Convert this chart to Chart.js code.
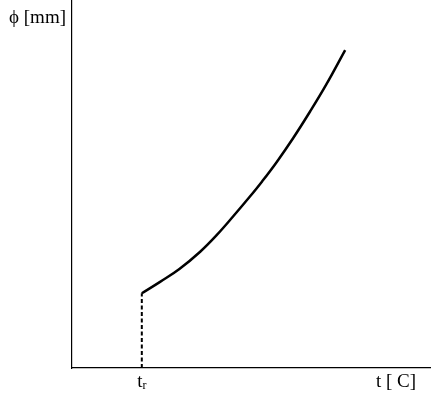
<!DOCTYPE html>
<html>
<head>
<meta charset="utf-8">
<script src="https://cdn.jsdelivr.net/npm/chart.js@4"></script>
<style>
  html, body { margin: 0; padding: 0; background: #fff; }
  #wrap { width: 434px; height: 399px; position: relative; }
</style>
</head>
<body>
<div id="wrap"><canvas id="c"></canvas></div>
<script>
// Curve of diameter versus temperature (arbitrary units, 0..100 on both axes)
const curveT   = [19.5, 24.6, 30.0, 35.8, 40.4, 45.1, 49.7, 53.1, 57.2, 61.8, 66.5, 71.0, 76.3];
const curvePhi = [20.3, 23.4, 26.9, 31.6, 36.1, 41.3, 46.6, 50.7, 56.0, 62.5, 69.7, 77.0, 86.4];
// dashed drop line from the start of the curve to the t axis
const dropT   = [19.5, 19.5];
const dropPhi = [0, 20.3];
// axis labels placed at tick positions ("_" marks a subscript)
const xTickValues = [19.5, 90.5];
const xTickLabels = ['t_r', 't [ C]'];
const yTickValues = [95.1];
const yTickLabels = ['ϕ [mm]'];

const toPts = (xs, ys) => xs.map((x, i) => ({ x, y: ys[i] }));
const FAMILY = "'Liberation Serif', 'Times New Roman', serif";
const SIZE = 19;

const xLabelPlugin = {
  id: 'xLabels',
  afterDraw(chart) {
    const ctx = chart.ctx, xs = chart.scales.x;
    const yMid = xs.top + 14;
    ctx.save();
    ctx.fillStyle = '#000';
    ctx.textBaseline = 'middle';
    xTickValues.forEach((v, i) => {
      const [main, sub] = xTickLabels[i].split('_');
      ctx.font = SIZE + 'px ' + FAMILY;
      const wMain = ctx.measureText(main).width;
      let wSub = 0;
      const subFont = Math.round(SIZE * 0.62) + 'px ' + FAMILY;
      if (sub) { ctx.font = subFont; wSub = ctx.measureText(sub).width; }
      const x0 = xs.getPixelForValue(v) - (wMain + wSub) / 2;
      ctx.font = SIZE + 'px ' + FAMILY;
      ctx.textAlign = 'left';
      ctx.fillText(main, x0, yMid);
      if (sub) { ctx.font = subFont; ctx.fillText(sub, x0 + wMain, yMid + 4); }
    });
    ctx.restore();
  }
};

new Chart(document.getElementById('c'), {
  type: 'scatter',
  data: {
    datasets: [
      { data: toPts(curveT, curvePhi), showLine: true, borderColor: '#000', borderWidth: 2.5,
        pointRadius: 0, tension: 0.4, fill: false },
      { data: toPts(dropT, dropPhi), showLine: true, borderColor: '#000', borderWidth: 2,
        borderDash: [4, 2.5], pointRadius: 0, fill: false }
    ]
  },
  plugins: [xLabelPlugin],
  options: {
    responsive: true,
    maintainAspectRatio: false,
    animation: false,
    layout: { padding: { top: 0, right: 4, left: 0, bottom: 0 } },
    plugins: { legend: { display: false }, tooltip: { enabled: false } },
    scales: {
      x: {
        type: 'linear', min: 0, max: 100,
        grid: { display: false, drawTicks: false },
        border: { display: true, color: '#000', width: 1.2 },
        afterBuildTicks: s => { s.ticks = xTickValues.map(v => ({ value: v })); },
        afterFit: s => { s.height = 31; s.paddingLeft = 0; s.paddingRight = 0; },
        ticks: { display: false }
      },
      y: {
        type: 'linear', min: 0, max: 100,
        grid: { display: false, drawTicks: false },
        border: { display: true, color: '#000', width: 1.2 },
        afterBuildTicks: s => { s.ticks = yTickValues.map(v => ({ value: v })); },
        afterFit: s => { s.width = 72; s.paddingTop = 0; s.paddingBottom = 0; },
        ticks: {
          autoSkip: false, color: '#000', font: { family: FAMILY, size: SIZE }, padding: 6,
          callback: (v, i) => yTickLabels[i]
        }
      }
    }
  }
});
</script>
</body>
</html>
